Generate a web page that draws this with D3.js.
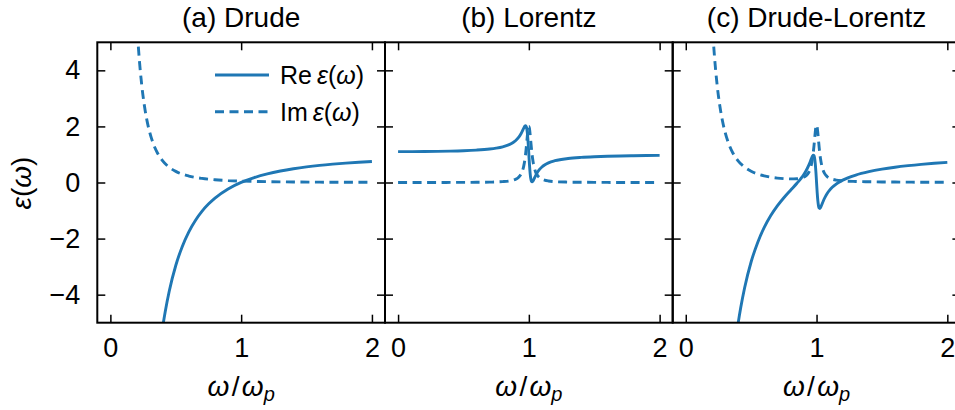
<!DOCTYPE html>
<html>
<head>
<meta charset="utf-8">
<script src="https://cdn.jsdelivr.net/npm/d3@7"></script>
<style>
  html, body { margin: 0; padding: 0; background: #fff; }
  svg { display: block; }
  text { font-family: "Liberation Sans", Arial, Helvetica, sans-serif; fill: #000; }
</style>
</head>
<body>
<svg id="chart" width="955" height="410"></svg>
<script>
// ---------------- data ----------------
const panelTitles = ["(a) Drude", "(b) Lorentz", "(c) Drude-Lorentz"];
const xTicks = [0, 1, 2];
const yTicks = [-4, -2, 0, 2, 4];
const yTickLabels = ["\u22124", "\u22122", "0", "2", "4"];

// (a) Drude
const omegaDrudeRe = [0.38,0.4,0.42,0.45,0.5,0.55,0.6,0.65,0.7,0.75,0.8,0.9,1.0,1.1,1.2,1.3,1.4,1.5,1.6,1.7,1.8,1.9,2.0];
const reDrude      = [-5.807,-5.154,-4.590,-3.878,-2.960,-2.279,-1.759,-1.353,-1.030,-0.770,-0.556,-0.231,0.003,0.175,0.307,0.409,0.490,0.556,0.610,0.654,0.692,0.723,0.750];
const omegaDrudeIm = [0.2,0.21,0.22,0.24,0.26,0.28,0.3,0.33,0.36,0.4,0.45,0.5,0.6,0.7,0.8,0.9,1.0,1.2,1.4,1.6,1.8,2.0];
const imDrude      = [5.882,5.109,4.465,3.466,2.743,2.207,1.802,1.360,1.051,0.769,0.542,0.396,0.230,0.145,0.097,0.068,0.050,0.029,0.018,0.012,0.009,0.006];

// (b) Lorentz
const omegaLorentz = [0,0.1,0.2,0.3,0.4,0.5,0.6,0.7,0.75,0.8,0.85,0.88,0.9,0.92,0.94,0.95,0.96,0.97,0.975,0.98,0.985,0.99,0.995,1.0,1.005,1.01,1.015,1.02,1.025,1.03,1.04,1.05,1.06,1.08,1.1,1.12,1.15,1.2,1.3,1.4,1.5,1.6,1.7,1.8,1.9,2.0];
const reLorentz    = [1.100,1.101,1.104,1.110,1.119,1.133,1.156,1.195,1.227,1.274,1.352,1.427,1.498,1.598,1.739,1.829,1.928,2.011,2.025,1.998,1.899,1.699,1.388,1.000,0.618,0.320,0.134,0.046,0.025,0.043,0.129,0.227,0.317,0.456,0.554,0.625,0.700,0.777,0.856,0.896,0.920,0.936,0.947,0.955,0.962,0.967];
const imLorentz    = [0,0.001,0.001,0.002,0.003,0.004,0.007,0.013,0.019,0.031,0.054,0.083,0.118,0.179,0.298,0.404,0.568,0.830,1.013,1.235,1.487,1.739,1.932,2.000,1.914,1.710,1.454,1.205,0.988,0.810,0.555,0.396,0.293,0.176,0.117,0.083,0.054,0.030,0.014,0.008,0.005,0.003,0.002,0.002,0.001,0.001];

// (c) Drude-Lorentz
const omegaDLRe = [0.38,0.4,0.42,0.45,0.5,0.55,0.6,0.65,0.7,0.75,0.8,0.85,0.88,0.9,0.92,0.94,0.95,0.96,0.97,0.975,0.98,0.985,0.99,0.995,1.0,1.005,1.01,1.015,1.02,1.025,1.03,1.04,1.05,1.06,1.08,1.1,1.12,1.15,1.2,1.3,1.4,1.5,1.6,1.7,1.8,1.9,2.0];
const reDL      = [-5.690,-5.035,-4.469,-3.753,-2.827,-2.136,-1.603,-1.180,-0.835,-0.543,-0.282,-0.027,0.140,0.267,0.420,0.610,0.724,0.846,0.951,0.976,0.959,0.871,0.681,0.380,0.003,-0.370,-0.658,-0.834,-0.913,-0.925,-0.897,-0.794,-0.678,-0.571,-0.399,-0.271,-0.171,-0.056,0.084,0.265,0.386,0.476,0.546,0.601,0.647,0.685,0.717];
const omegaDLIm = [0.2,0.21,0.22,0.24,0.26,0.28,0.3,0.33,0.36,0.4,0.45,0.5,0.6,0.7,0.75,0.8,0.85,0.88,0.9,0.92,0.94,0.95,0.96,0.97,0.975,0.98,0.985,0.99,0.995,1.0,1.005,1.01,1.015,1.02,1.025,1.03,1.04,1.05,1.06,1.08,1.1,1.12,1.15,1.2,1.3,1.4,1.5,1.6,1.7,1.8,1.9,2.0];
const imDL      = [5.883,5.110,4.466,3.467,2.744,2.209,1.804,1.362,1.053,0.772,0.546,0.400,0.237,0.158,0.137,0.128,0.135,0.156,0.186,0.243,0.358,0.462,0.624,0.885,1.067,1.288,1.539,1.790,1.983,2.050,1.963,1.758,1.502,1.252,1.034,0.856,0.599,0.439,0.335,0.216,0.154,0.118,0.087,0.059,0.036,0.026,0.020,0.016,0.013,0.010,0.009,0.007];

// ---------------- layout ----------------
const color = "#1f77b4";
const panelLeft = [97.3, 385, 672.7];
const panelW = 287.7;
const plotTop = 42.3, plotBottom = 322.7;
const xDomain = [-0.1, 2.1];
const yDomain = [-5, 5];
const dash = "9,5.5";
const lineW = 2.9;
const titleSize = 28, tickSize = 27, labelSize = 28, legendSize = 25;

const svg = d3.select("#chart");
const y = d3.scaleLinear().domain(yDomain).range([plotBottom, plotTop]);

const panels = [
  {re: [omegaDrudeRe, reDrude], im: [omegaDrudeIm, imDrude]},
  {re: [omegaLorentz, reLorentz], im: [omegaLorentz, imLorentz]},
  {re: [omegaDLRe, reDL], im: [omegaDLIm, imDL]}
];

panels.forEach((p, i) => {
  const L = panelLeft[i];
  const x = d3.scaleLinear().domain(xDomain).range([L, L + panelW]);
  const g = svg.append("g");

  const clipId = "clip" + i;
  svg.append("clipPath").attr("id", clipId)
    .append("rect").attr("x", L).attr("y", plotTop).attr("width", panelW).attr("height", plotBottom - plotTop);

  const line = d3.line().x(d => x(d[0])).y(d => y(d[1])).curve(d3.curveMonotoneX);
  const reData = p.re[0].map((w, k) => [w, p.re[1][k]]);
  const imData = p.im[0].map((w, k) => [w, p.im[1][k]]);

  const curves = g.append("g").attr("clip-path", `url(#${clipId})`);
  curves.append("path").datum(reData).attr("d", line)
    .attr("fill", "none").attr("stroke", color).attr("stroke-width", lineW);
  curves.append("path").datum(imData).attr("d", line)
    .attr("fill", "none").attr("stroke", color).attr("stroke-width", lineW)
    .attr("stroke-dasharray", dash);

  // axes (ticks inward, mirrored)
  const tickLen = 8;
  g.append("g").attr("transform", `translate(0,${plotBottom})`)
    .call(d3.axisBottom(x).tickValues(xTicks).tickSize(-tickLen).tickPadding(15).tickFormat(d3.format("d")))
    .call(a => a.select(".domain").remove())
    .call(a => a.selectAll("line").attr("stroke-width", 1.5))
    .call(a => a.selectAll("text").attr("font-size", tickSize).attr("font-family", "Liberation Sans, Arial, sans-serif"));
  g.append("g").attr("transform", `translate(0,${plotTop})`)
    .call(d3.axisTop(x).tickValues(xTicks).tickSize(-tickLen).tickFormat(""))
    .call(a => a.select(".domain").remove())
    .call(a => a.selectAll("line").attr("stroke-width", 1.5));
  g.append("g").attr("transform", `translate(${L},0)`)
    .call(d3.axisLeft(y).tickValues(yTicks).tickSize(-tickLen).tickPadding(17)
      .tickFormat((d, k) => i === 0 ? yTickLabels[k] : ""))
    .call(a => a.select(".domain").remove())
    .call(a => a.selectAll("line").attr("stroke-width", 1.5))
    .call(a => a.selectAll("text").attr("font-size", tickSize).attr("font-family", "Liberation Sans, Arial, sans-serif"));
  g.append("g").attr("transform", `translate(${L + panelW},0)`)
    .call(d3.axisRight(y).tickValues(yTicks).tickSize(-tickLen).tickFormat(""))
    .call(a => a.select(".domain").remove())
    .call(a => a.selectAll("line").attr("stroke-width", 1.5));

  // frame
  g.append("rect").attr("x", L).attr("y", plotTop).attr("width", panelW).attr("height", plotBottom - plotTop)
    .attr("fill", "none").attr("stroke", "#000").attr("stroke-width", 2);

  // title
  g.append("text").attr("x", L + panelW / 2).attr("y", 27).attr("text-anchor", "middle")
    .attr("font-size", titleSize).text(panelTitles[i]);

  // x label
  const xl = g.append("text").attr("x", L + panelW / 2).attr("y", 396).attr("text-anchor", "middle")
    .attr("font-size", labelSize);
  xl.append("tspan").attr("font-style", "italic").text("\u03c9");
  xl.append("tspan").text("\u200a/\u200a");
  xl.append("tspan").attr("font-style", "italic").text("\u03c9");
  xl.append("tspan").attr("font-style", "italic").attr("font-size", 20).attr("dy", 5).text("p");
});

// y label
const ylab = svg.append("text").attr("transform", "translate(31,183) rotate(-90)")
  .attr("text-anchor", "middle").attr("font-size", labelSize);
ylab.append("tspan").attr("font-style", "italic").text("\u03b5");
ylab.append("tspan").text("(");
ylab.append("tspan").attr("font-style", "italic").text("\u03c9");
ylab.append("tspan").text(")");

// legend
const legendItems = [
  {label: "Re", dash: null, y: 75},
  {label: "Im", dash: dash, y: 111.7}
];
const lg = svg.append("g");
legendItems.forEach(it => {
  lg.append("line").attr("x1", 215).attr("x2", 269).attr("y1", it.y).attr("y2", it.y)
    .attr("stroke", color).attr("stroke-width", lineW).attr("stroke-dasharray", it.dash);
  const t = lg.append("text").attr("x", 280).attr("y", it.y + 9).attr("font-size", legendSize);
  t.append("tspan").text(it.label + "\u2009");
  t.append("tspan").attr("font-style", "italic").text("\u03b5");
  t.append("tspan").text("(");
  t.append("tspan").attr("font-style", "italic").text("\u03c9");
  t.append("tspan").text(")");
});
</script>
</body>
</html>
